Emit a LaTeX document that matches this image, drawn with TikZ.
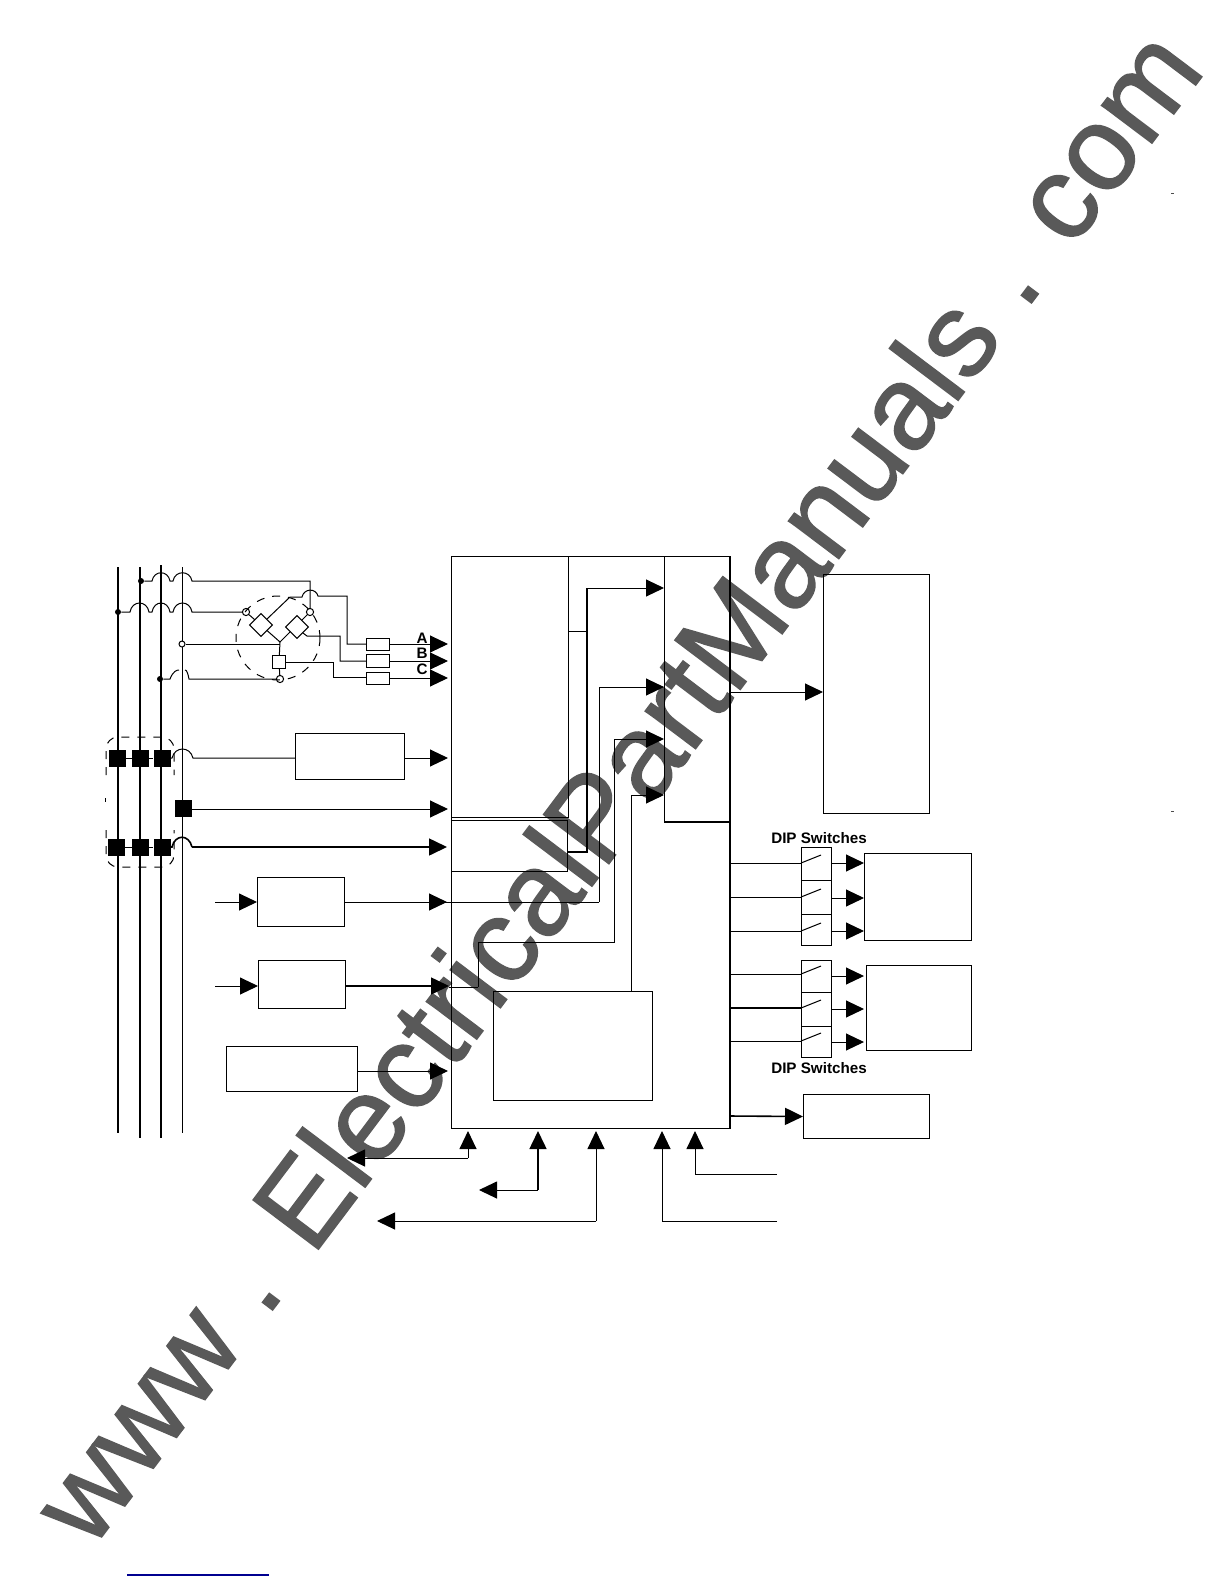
\documentclass[tikz,border=0pt]{standalone}
\usepackage{fontspec}
\setmainfont{Liberation Sans}
\newfontfamily\wmfont[FakeBold=1.2]{Liberation Sans}
\usetikzlibrary{arrows.meta}
\definecolor{wmgray}{HTML}{595959}
\definecolor{rulecol}{HTML}{000090}
\tikzset{
  wire/.style={line width=0.5pt,black},
  thick wire/.style={line width=0.8pt,black},
  sbox/.style={draw=black,line width=0.5pt,fill=none},
  aw/.style={wire,-{Triangle[length=9pt,width=8.5pt]}},
  awthick/.style={thick wire,-{Triangle[length=9pt,width=8.5pt]}},
  bsq/.style={fill=black,draw=none,minimum size=8.5pt,inner sep=0pt},
  lbl/.style={font=\bfseries\fontsize{7.6}{9}\selectfont,inner sep=0pt},
  diplbl/.style={font=\bfseries\fontsize{7.6}{9}\selectfont,inner sep=0pt},
  dashc/.style={draw=black,line width=0.5pt,dash pattern=on 4pt off 4pt},
  dot/.style={circle,draw=black,fill=white,line width=0.5pt,minimum size=3.6pt,inner sep=0pt},
  bdot/.style={circle,fill=black,minimum size=3pt,inner sep=0pt},
  dia/.style={draw=black,fill=white,line width=0.5pt},
}
\begin{document}
\begin{tikzpicture}[x=0.5pt,y=-0.5pt]
\useasboundingbox (0,0) rectangle (1224,1584);
% watermark
\node[rotate=53,text=wmgray,font=\wmfont\fontsize{59.5}{62}\selectfont,inner sep=0pt] (wm) at (615,785) {www . ElectricalPartManuals . com};
% main boxes
\node[sbox,anchor=north west,minimum width=139pt,minimum height=286pt,inner sep=0pt] (main) at (451,556) {};
\draw[thick wire] (main.north east) -- (main.south east);
\draw[sbox] (451,556) rectangle (568,817);
\draw[sbox] (451,820) rectangle (567,871);
\node[sbox,anchor=north west,minimum width=32.5pt,minimum height=132.5pt,inner sep=0pt] (ctl) at (664,556) {};
\draw[thick wire] (ctl.south west) -- (ctl.south east);
\node[sbox,anchor=north west,minimum width=79.5pt,minimum height=54.5pt,inner sep=0pt] (cpu) at (493,991) {};
\node[sbox,anchor=north west,minimum width=53pt,minimum height=119.5pt,inner sep=0pt] (disp) at (823,574) {};
% internal connectors
\draw[wire] (568,631) -- (587,631);
\draw[thick wire] (567,852) -- (587,852) -- (587,588);
\draw[aw] (587,588) -- (ctl.west |- 0,588);
\draw[aw] (599,902) -- (599,687) -- (ctl.west |- 0,687);
\draw[aw] (478,987) -- (478,942) -- (614,942) -- (614,739) -- (ctl.west |- 0,739);
\draw[aw] (631,991) -- (631,795) -- (ctl.west |- 0,795);
\draw[aw] (729,692) -- (disp.west |- 0,692);
% phases
\draw[line width=0.7pt] (118,567) -- (118,1133);
\draw[line width=0.8pt] (140,567) -- (140,1138);
\draw[line width=0.8pt] (161,565) -- (161,1138);
\draw[line width=0.5pt] (182,567) -- (182,1133);
% tap wires with humps
\node[bdot] (t1) at (141,581) {};
\node[bdot] (t2) at (118,612) {};
\node[bdot] (t3) at (160,679) {};
\node[dot] (c1) at (246,612) {};
\node[dot] (c2) at (310,612) {};
\node[dot] (c3) at (280,679) {};
\node[dot,minimum size=3pt] (c4) at (182,644) {};
\draw[wire] (t1) -- (152,581) .. controls (154,570) and (168,570) .. (170,581) -- (173,581) .. controls (175,570) and (190,570) .. (192,581) -- (310,581) -- (c2);
\draw[wire] (t2) -- (130,612) .. controls (132,600) and (147,600) .. (149,612) -- (152,612) .. controls (154,600) and (168,600) .. (170,612) -- (173,612) .. controls (175,600) and (190,600) .. (192,612) -- (c1);
\draw[wire] (t3) -- (170,679) .. controls (173,671) and (177,670) .. (179,670);
\draw[wire] (185,670) .. controls (187,670) and (188,674) .. (189,679) -- (c3);
\draw[wire] (c4) -- (280,644);
% bridge
\draw[dashc] (278,638) circle (42);
\draw[wire] (c1) -- (280,642) -- (c2);
\node[dia,rotate=45,minimum size=8pt,inner sep=0pt] (d1) at (261,625) {};
\node[dia,rotate=45,minimum size=8pt,inner sep=0pt] (d2) at (297,627) {};
\node[dia,minimum size=6.5pt,inner sep=0pt] (d3) at (279,662) {};
\draw[wire] (280,642) -- (d3) -- (c3);
\draw[wire] (d1.east) -- (290,597) -- (302,597) .. controls (304,588) and (316,588) .. (318,596) -- (347,596) -- (347,644) -- (366,644);
\draw[wire] (d2.south) -- (307,636) -- (340,636) -- (340,661) -- (366,661);
\draw[wire] (d3) -- (333,662) -- (333,677) -- (366,677);
% fuses
\node[sbox,anchor=north west,minimum width=11.5pt,minimum height=6pt,inner sep=0pt] (f1) at (366,638) {};
\node[sbox,anchor=north west,minimum width=11.5pt,minimum height=6.5pt,inner sep=0pt] (f2) at (366,654) {};
\node[sbox,anchor=north west,minimum width=11.5pt,minimum height=6pt,inner sep=0pt] (f3) at (366,672) {};
\draw[aw] (f1.east |- 0,644) -- (448,644);
\draw[aw] (f2.east |- 0,661) -- (448,661);
\draw[aw] (f3.east |- 0,678) -- (448,678);
\node[lbl] (la) at (422,638) {A};
\node[lbl] (lb) at (422,653) {B};
\node[lbl] (lc) at (422,669) {C};
% breakers
\draw[dashc,rounded corners=6pt] (106,775) -- (106,737) -- (174,737) -- (174,775);
\draw[dashc,rounded corners=6pt] (106,830) -- (106,867) -- (174,867) -- (174,830);
\draw[wire] (105,798) -- (105,802);
\foreach \n/\x/\y in {a/117/758,b/140/758,c/162/758,d/116/847,e/140/847,f/162/847,g/183/808}{
  \node[bsq] (s\n) at (\x,\y) {};
}
\draw[wire] (sa) -- (sc);
\draw[wire] (sd) -- (sf);
\node[sbox,anchor=north west,minimum width=54.5pt,minimum height=23pt,inner sep=0pt] (b1) at (295,733) {};
\draw[wire] (sc) -- (172,758) .. controls (175,746) and (190,746) .. (193,758) -- (b1.west |- sc);
\draw[aw] (b1.east |- sc) -- (448,758);
\draw[aw] (sg.east |- 0,809) -- (448,809);
\draw[thick wire] (sf) -- (172,847) .. controls (175,834) and (189,834) .. (192,847);
\draw[awthick] (192,847) -- (447,847);
% left boxes
\coordinate (i1) at (215,902);
\coordinate (i2) at (215,986);
\node[sbox,anchor=north west,minimum width=43.5pt,minimum height=24.5pt,inner sep=0pt] (b2) at (257,877) {};
\node[sbox,anchor=north west,minimum width=43.5pt,minimum height=24pt,inner sep=0pt] (b3) at (258,960) {};
\node[sbox,anchor=north west,minimum width=65.5pt,minimum height=22.5pt,inner sep=0pt] (b4) at (226,1046) {};
\draw[aw] (i1) -- (b2.west |- i1);
\draw[aw] (i2) -- (b3.west |- i2);
\draw[wire] (b2.east |- i1) -- (599,902);
\draw[aw] (b2.east |- i1) -- (447,902);
\draw[awthick] (b3.east |- i2) -- (449,986);
\draw[wire] (449,987) -- (478,987);
\draw[aw] (b4.east |- 0,1071) -- (448,1071);
% DIP switches
\node[diplbl] (dip1) at (819,838) {DIP Switches};
\node[diplbl] (dip2) at (819,1068) {DIP Switches};
\node[sbox,anchor=north west,minimum width=53.5pt,minimum height=43.5pt,inner sep=0pt] (o1) at (864,853) {};
\node[sbox,anchor=north west,minimum width=52.5pt,minimum height=42.5pt,inner sep=0pt] (o2) at (866,965) {};
\node[sbox,anchor=north west,minimum width=63pt,minimum height=22pt,inner sep=0pt] (o3) at (803,1094) {};
\foreach \n/\ya/\yb/\yl/\yo/\w in {p/847/880/863/863/0.5,q/880/914/897/898/0.5,r/914/945/931/931/0.5,s/960/992/974/976/0.5,t/992/1026/1008/1009/0.9,u/1026/1057/1041/1042/0.5}{
  \node[sbox,anchor=north west,minimum width=15pt,minimum height={(\yb-\ya)*0.5pt},inner sep=0pt] (sw\n) at (801,\ya) {};
  \coordinate (in\n) at (731,\yl);
  \draw[line width=\w pt] (in\n) -- (sw\n.west |- in\n);
  \draw[wire] (sw\n.west |- in\n) -- (821,\yl-8);
  \coordinate (ot\n) at (831,\yo);
  \draw[aw] (ot\n) -- (864,\yo);
}
\draw[awthick] (729,1116) -- (o3.west);
% bottom connectors
\coordinate (e1) at (347,1158);
\coordinate (e2) at (479,1190);
\coordinate (e3) at (377,1221);
\coordinate (e4) at (777,1221);
\coordinate (e5) at (777,1174);
\draw[aw] (468,1158) -- (e1);
\draw[aw] (468,1158) -- (468,1131);
\draw[aw] (538,1190) -- (e2);
\draw[awthick] (538,1190) -- (538,1131);
\draw[aw] (596,1221) -- (e3);
\draw[aw] (596,1221) -- (596,1131);
\draw[aw] (e4) -- (662,1221) -- (662,1131);
\draw[aw] (e5) -- (695,1174) -- (695,1131);
% marks on the page
\draw[rulecol,line width=0.6pt] (127,1575) -- (269,1575);
\fill[black!70] (1171,193) rectangle (1174,194);
\fill[black!70] (1171,811) rectangle (1174,812);
\end{tikzpicture}
\end{document}
